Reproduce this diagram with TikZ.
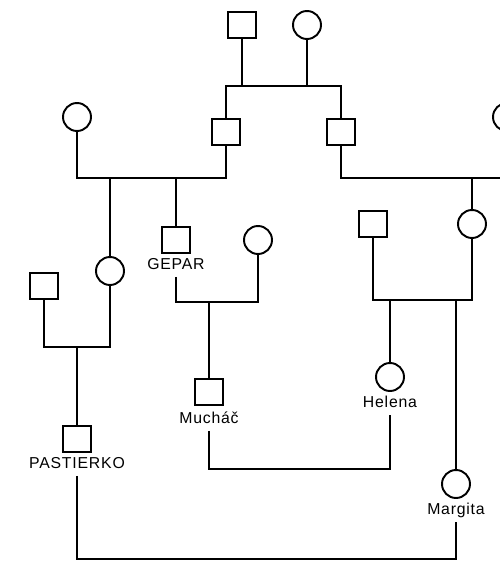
\documentclass[tikz,border=0pt]{standalone}
\usepackage{fontspec}
\usepackage{tikz}
\usetikzlibrary{positioning}
\newfontfamily\namefont[LetterSpace=5]{Liberation Sans}

\begin{document}
\begin{tikzpicture}[
  x=0.02cm, y=-0.02cm,
  male/.style={draw, rectangle, minimum width=5.6mm, minimum height=5.2mm, inner sep=0pt, line width=1.1pt},
  female/.style={draw, circle, minimum size=5.6mm, inner sep=0pt, line width=1.1pt},
  tag/.style={font=\namefont\fontsize{9}{10}\selectfont, inner sep=0pt, text depth=0pt, outer sep=4.5pt, anchor=base},
  rel/.style={line width=1.1pt}
]
\useasboundingbox (0,0) rectangle (500,562);
\clip (0,0) rectangle (500,562);
\node[male] (grandpa) at (242,25) {};
\node[female] (grandma) at (307,25) {};
\node[male] (sonL) at (226,132) {};
\node[male] (sonR) at (341,132) {};
\node[female] (wifeL) at (77,117) {};
\node[female] (wifeR) at (507,117) {};
\node[male] (gepar) at (176,240) {};
\node[tag] (geparlbl) at (176,269) {GEPAR};
\node[female] (geparwife) at (258,240) {};
\node[female] (daughterL) at (110,271) {};
\node[male] (husbandL) at (44,286) {};
\node[male] (pastierko) at (77,439) {};
\node[tag] (pastlbl) at (77,468) {PASTIERKO};
\node[male] (muchac) at (209,392) {};
\node[tag] (muchlbl) at (209,423) {Mucháč};
\node[male] (husbandR) at (373,224) {};
\node[female] (daughterR) at (472,224) {};
\node[female] (helena) at (390,377) {};
\node[tag] (helenalbl) at (390,407) {Helena};
\node[female] (margita) at (456,484) {};
\node[tag] (margitalbl) at (456,514) {Margita};
\draw[rel] (grandpa) -- (grandpa |- 0,86);
\draw[rel] (grandma) -- (grandma |- 0,86);
\draw[rel] (sonL) -- (sonL |- 0,86) -- (sonR |- 0,86) -- (sonR);
\draw[rel] (wifeL) -- (wifeL |- 0,178) -- (sonL |- 0,178) -- (sonL);
\draw[rel] (daughterL |- 0,178) -- (daughterL);
\draw[rel] (gepar |- 0,178) -- (gepar);
\draw[rel] (sonR) -- (sonR |- 0,178) -- (wifeR |- 0,178) -- (wifeR);
\draw[rel] (daughterR |- 0,178) -- (daughterR);
\draw[rel] (husbandL) -- (husbandL |- 0,347) -- (daughterL |- 0,347) -- (daughterL);
\draw[rel] (pastierko |- 0,347) -- (pastierko);
\draw[rel] (geparlbl) -- (geparlbl |- 0,302) -- (geparwife |- 0,302) -- (geparwife);
\draw[rel] (muchac |- 0,302) -- (muchac);
\draw[rel] (husbandR) -- (husbandR |- 0,300) -- (daughterR |- 0,300) -- (daughterR);
\draw[rel] (helena |- 0,300) -- (helena);
\draw[rel] (margita |- 0,300) -- (margita);
\draw[rel] (muchlbl) -- (muchlbl |- 0,469) -- (helenalbl |- 0,469) -- (helenalbl);
\draw[rel] (pastlbl) -- (pastlbl |- 0,559) -- (margitalbl |- 0,559) -- (margitalbl);
\end{tikzpicture}
\end{document}
